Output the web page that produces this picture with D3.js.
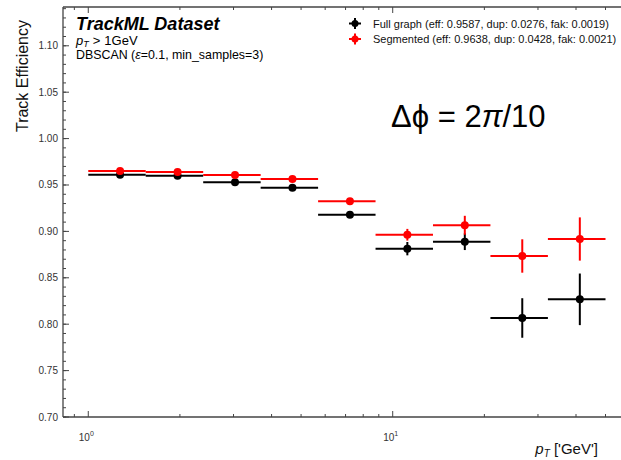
<!DOCTYPE html>
<html>
<head>
<meta charset="utf-8">
<script src="https://cdn.jsdelivr.net/npm/d3@7"></script>
<style>
  body { margin: 0; background: #fff; }
  svg { font-family: "Liberation Sans", Arial, sans-serif; }
</style>
</head>
<body>
<svg id="chart" width="621" height="460"></svg>
<script>
// pT bin edges (GeV) and the point positions inside them
const binEdges = [1.0, 1.544, 2.385, 3.683, 5.687, 8.782, 13.56, 20.94, 32.34, 50.0];
const binCenters = [1.272, 1.965, 3.034, 4.685, 7.235, 11.17, 17.25, 26.64, 41.17];

// Full graph series
const fullEff = [0.9611, 0.9600, 0.9529, 0.9471, 0.9180, 0.8814, 0.8889, 0.8067, 0.8268];
const fullErr = [0.0012, 0.0015, 0.0020, 0.0025, 0.0035, 0.0072, 0.0090, 0.0213, 0.0278];

// Segmented series
const segEff = [0.9651, 0.9640, 0.9608, 0.9565, 0.9324, 0.8964, 0.9066, 0.8735, 0.8918];
const segErr = [0.0010, 0.0013, 0.0018, 0.0022, 0.0030, 0.0063, 0.0102, 0.0180, 0.0233];

// tick values
const yMajorTicks = [0.70, 0.75, 0.80, 0.85, 0.90, 0.95, 1.00, 1.05, 1.10];
const yMinorTicks = d3.range(70, 115).map(d => d / 100);
const xMajorTicks = [1, 10];
const xMinorTicks = [0.9, 2, 3, 4, 5, 6, 7, 8, 9, 20, 30, 40, 50, 60];

const legendLabels = [
  "Full graph (eff: 0.9587, dup: 0.0276, fak: 0.0019)",
  "Segmented (eff: 0.9638, dup: 0.0428, fak: 0.0021)"
];

const svg = d3.select("#chart");

// plot area (right spine sits past the picture edge)
const pLeft = 63, pRight = 640, pTop = 7, pBottom = 417;

const x = d3.scaleLog().domain([0.826, 64.9]).range([pLeft, pRight]);
const y = d3.scaleLinear().domain([0.70, 1.1418]).range([pBottom, pTop]);

const axisColor = "#444";
const labelColor = "#333";

svg.append("clipPath").attr("id", "clip")
  .append("rect")
  .attr("x", pLeft).attr("y", pTop)
  .attr("width", pRight - pLeft).attr("height", pBottom - pTop);

// ticks (inward, on bottom + top and left)
const tickG = svg.append("g").attr("stroke", axisColor).attr("stroke-width", 1);

yMinorTicks.forEach(v => {
  tickG.append("line")
    .attr("x1", pLeft).attr("x2", pLeft + 3)
    .attr("y1", y(v)).attr("y2", y(v));
});
yMajorTicks.forEach(v => {
  tickG.append("line")
    .attr("x1", pLeft).attr("x2", pLeft + 6)
    .attr("y1", y(v)).attr("y2", y(v));
});
[[pBottom, -1], [pTop, 1]].forEach(([yy, dir]) => {
  xMinorTicks.forEach(v => {
    tickG.append("line")
      .attr("x1", x(v)).attr("x2", x(v))
      .attr("y1", yy).attr("y2", yy + dir * 3);
  });
  xMajorTicks.forEach(v => {
    tickG.append("line")
      .attr("x1", x(v)).attr("x2", x(v))
      .attr("y1", yy).attr("y2", yy + dir * 6);
  });
});

// spines
svg.append("line").attr("x1", pLeft).attr("x2", pLeft).attr("y1", pTop).attr("y2", pBottom)
  .attr("stroke", axisColor).attr("stroke-width", 1.3);
svg.append("line").attr("x1", pLeft).attr("x2", pRight).attr("y1", pBottom).attr("y2", pBottom)
  .attr("stroke", axisColor).attr("stroke-width", 1.3);
svg.append("line").attr("x1", pLeft).attr("x2", pRight).attr("y1", pTop).attr("y2", pTop)
  .attr("stroke", axisColor).attr("stroke-width", 1.3);

// y tick labels
svg.append("g").selectAll("text")
  .data(yMajorTicks)
  .enter()
  .append("text")
  .attr("x", pLeft - 5)
  .attr("y", d => y(d) + 3.5)
  .attr("text-anchor", "end")
  .style("font-size", "10px")
  .attr("fill", labelColor)
  .text(d => d.toFixed(2));

// x tick labels 10^0, 10^1
const xLab = svg.append("g").selectAll("text")
  .data(xMajorTicks)
  .enter()
  .append("text")
  .attr("x", d => x(d) - 2)
  .attr("y", 441)
  .attr("text-anchor", "middle")
  .style("font-size", "10px")
  .attr("fill", labelColor);
xLab.append("tspan").text("10");
xLab.append("tspan").attr("dy", -5).style("font-size", "7px").text(d => Math.round(Math.log10(d)));

// axis titles
svg.append("text")
  .attr("transform", "translate(28, 20) rotate(-90)")
  .attr("text-anchor", "end")
  .style("font-size", "16px")
  .attr("fill", "#111")
  .text("Track Efficiency");

const xTitle = svg.append("text")
  .attr("x", 598)
  .attr("y", 454)
  .attr("text-anchor", "end")
  .style("font-size", "15px")
  .attr("fill", "#111");
xTitle.append("tspan").style("font-style", "italic").text("p");
xTitle.append("tspan").attr("dy", 2.5).style("font-size", "10px").style("font-style", "italic").text("T");
xTitle.append("tspan").attr("dy", -2.5).text(" ['GeV']");

// data
const plot = svg.append("g").attr("clip-path", "url(#clip)");

function drawSeries(eff, err, color) {
  const g = plot.append("g");
  g.selectAll(".xerr")
    .data(eff)
    .enter()
    .append("line")
    .attr("x1", (d, i) => x(binEdges[i]))
    .attr("x2", (d, i) => x(binEdges[i + 1]))
    .attr("y1", d => y(d))
    .attr("y2", d => y(d))
    .attr("stroke", color)
    .attr("stroke-width", 2);
  g.selectAll(".yerr")
    .data(eff)
    .enter()
    .append("line")
    .attr("x1", (d, i) => x(binCenters[i]))
    .attr("x2", (d, i) => x(binCenters[i]))
    .attr("y1", (d, i) => y(d - err[i]))
    .attr("y2", (d, i) => y(d + err[i]))
    .attr("stroke", color)
    .attr("stroke-width", 2);
  g.selectAll("circle")
    .data(eff)
    .enter()
    .append("circle")
    .attr("cx", (d, i) => x(binCenters[i]))
    .attr("cy", d => y(d))
    .attr("r", 4)
    .attr("fill", color);
}

drawSeries(fullEff, fullErr, "#000");
drawSeries(segEff, segErr, "#ff0000");

// experiment label
svg.append("text")
  .attr("x", 76).attr("y", 30)
  .style("font-size", "18px")
  .style("font-weight", "bold")
  .style("font-style", "italic")
  .attr("fill", "#000")
  .text("TrackML Dataset");

const ptLine = svg.append("text")
  .attr("x", 76).attr("y", 45)
  .style("font-size", "13px")
  .attr("fill", "#000");
ptLine.append("tspan").style("font-style", "italic").text("p");
ptLine.append("tspan").attr("dy", 1.5).style("font-size", "9px").style("font-style", "italic").text("T");
ptLine.append("tspan").attr("dy", -1.5).attr("dx", 4).text(">");
ptLine.append("tspan").attr("dx", 4).text("1GeV");

const dbLine = svg.append("text")
  .attr("x", 76).attr("y", 59)
  .style("font-size", "12.4px")
  .attr("fill", "#000");
dbLine.append("tspan").text("DBSCAN (");
dbLine.append("tspan").style("font-style", "italic").text("ε");
dbLine.append("tspan").text("=0.1, min_samples=3)");

// legend
const legendColors = ["#000", "#ff0000"];
const legend = svg.append("g");
legendLabels.forEach((lab, i) => {
  const ly = 23.5 + i * 15.5;
  legend.append("line").attr("x1", 349).attr("x2", 361).attr("y1", ly).attr("y2", ly)
    .attr("stroke", legendColors[i]).attr("stroke-width", 2);
  legend.append("line").attr("x1", 355).attr("x2", 355).attr("y1", ly - 5.5).attr("y2", ly + 5.5)
    .attr("stroke", legendColors[i]).attr("stroke-width", 2);
  legend.append("circle").attr("cx", 355).attr("cy", ly).attr("r", 3.5).attr("fill", legendColors[i]);
  legend.append("text")
    .attr("x", 373).attr("y", ly + 4)
    .style("font-size", "11px")
    .attr("fill", "#111")
    .text(lab);
});

// phi segmentation annotation
const ann = svg.append("text")
  .attr("x", 391).attr("y", 127)
  .style("font-size", "31px")
  .attr("fill", "#000");
ann.append("tspan").text("Δϕ = 2");
ann.append("tspan").style("font-style", "italic").text("π");
ann.append("tspan").text("/10");
</script>
</body>
</html>
